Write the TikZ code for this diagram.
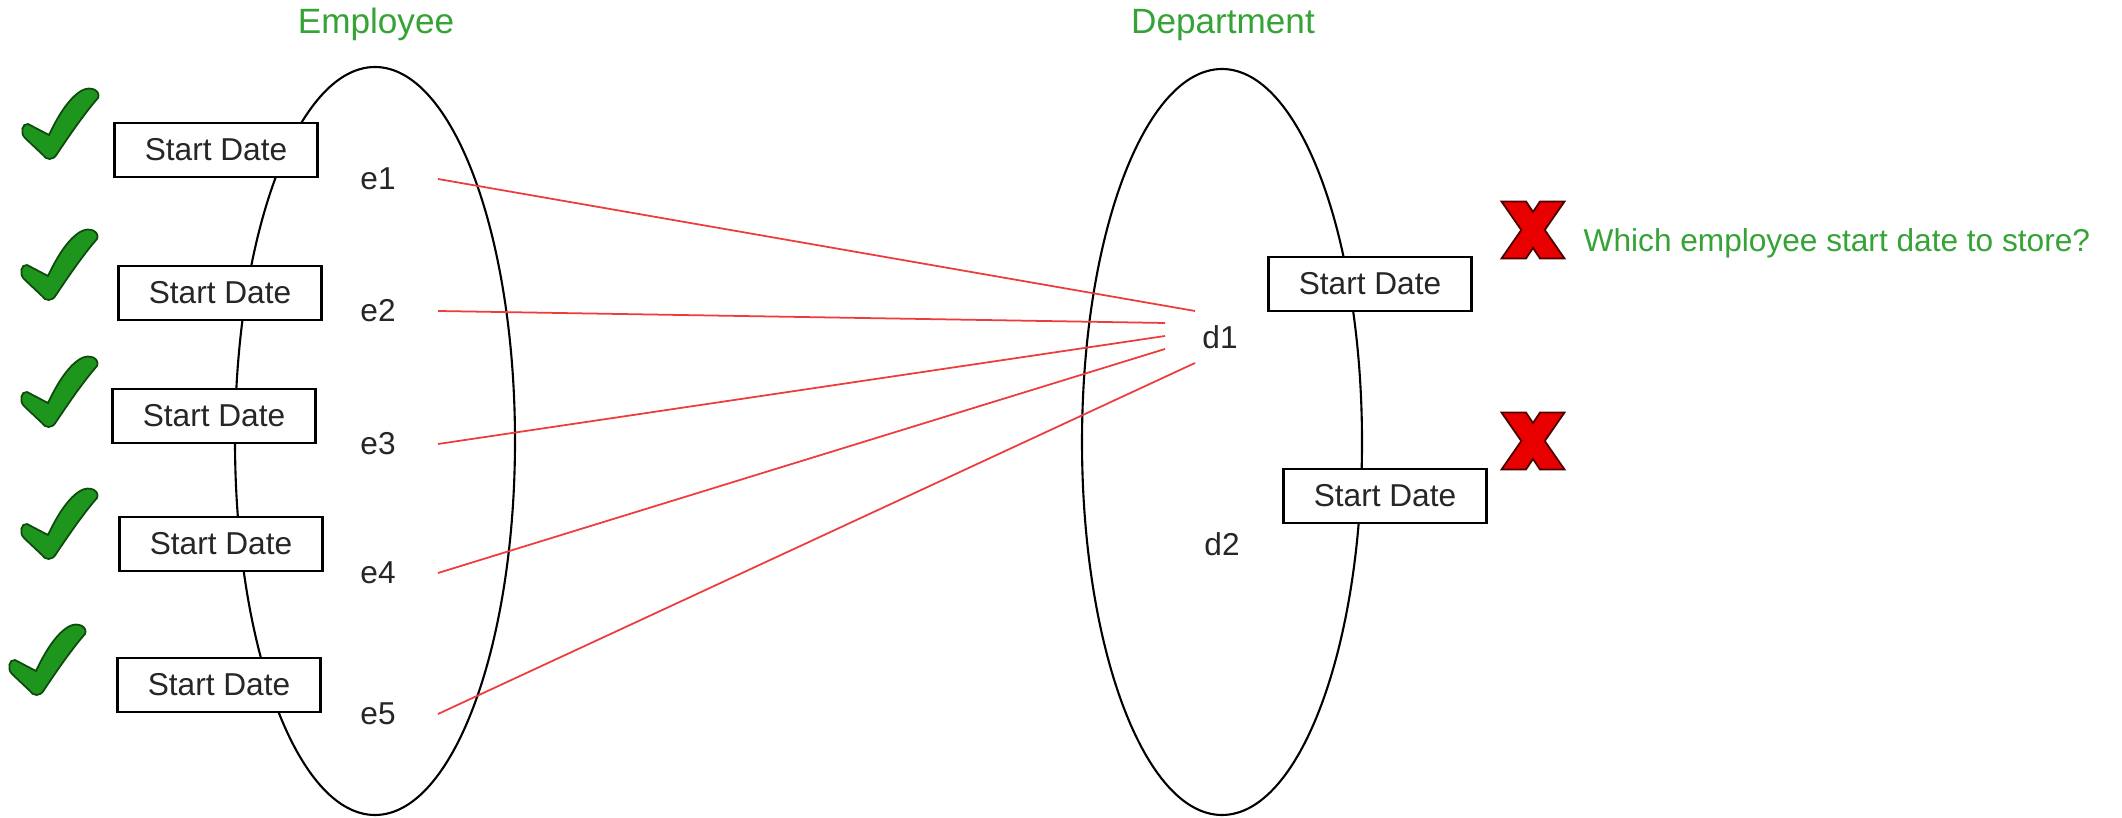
\documentclass[tikz,border=0pt]{standalone}
\usepackage{fontspec}
\setmainfont{Liberation Sans}
\usetikzlibrary{positioning}
\definecolor{titlegreen}{HTML}{36A336}
\definecolor{linkred}{HTML}{EE3B3B}
\definecolor{tickfill}{HTML}{1E961E}
\definecolor{tickedge}{HTML}{0E4A0E}
\definecolor{crossfill}{HTML}{E80000}
\definecolor{crossedge}{HTML}{4A0000}
\definecolor{inktext}{HTML}{262626}

\tikzset{
  datebox/.style={draw, line width=0.7pt, fill=white, minimum width=2.03cm,
    minimum height=0.54cm, inner sep=0pt, text=inktext, font=\fontsize{9}{10}\selectfont},
  member/.style={inner sep=0pt, text=inktext, font=\fontsize{9}{10}\selectfont},
  heading/.style={anchor=base, text=titlegreen, font=\fontsize{10}{12}\selectfont},
  link/.style={linkred, line width=0.5pt},
  okmark/.pic={
    \filldraw[fill=tickfill, draw=tickedge, line width=0.5pt]
      (-0.34,0.00) -- (-0.13,-0.11)
      .. controls (-0.05,0.06) and (0.06,0.25) .. (0.19,0.33)
      .. controls (0.29,0.39) and (0.39,0.33) .. (0.36,0.26)
      .. controls (0.22,0.10) and (0.07,-0.12) .. (-0.05,-0.30)
      .. controls (-0.09,-0.37) and (-0.16,-0.36) .. (-0.19,-0.31)
      -- (-0.37,-0.14)
      .. controls (-0.42,-0.09) and (-0.40,0.01) .. cycle;
  },
  nomark/.pic={
    \filldraw[fill=crossfill, draw=crossedge, line width=0.5pt]
      (-0.315,0.285) -- (-0.07,0.285) -- (0,0.18) -- (0.07,0.285)
      -- (0.315,0.285) -- (0.1175,0) -- (0.315,-0.285) -- (0.07,-0.285)
      -- (0,-0.18) -- (-0.07,-0.285) -- (-0.315,-0.285) -- (-0.1175,0) -- cycle;
  }
}

\begin{document}
\begin{tikzpicture}
    \fill[white] (0,0) rectangle (21.22,8.17);
    \useasboundingbox (0,0) rectangle (21.22,8.17);

    % the two entity sets
    \draw[line width=0.6pt] (3.75,3.76) ellipse (1.40cm and 3.74cm);
    \draw[line width=0.6pt] (12.22,3.75) ellipse (1.40cm and 3.73cm);
    \node[heading] (emptitle) at (3.76,7.83) {Employee};
    \node[heading] (deptitle) at (12.23,7.83) {Department};

    % employees
    \node[member] (e1) at (3.78,6.38) {e1};
    \node[member] (e2) at (3.78,5.06) {e2};
    \node[member] (e3) at (3.78,3.73) {e3};
    \node[member] (e4) at (3.78,2.44) {e4};
    \node[member] (e5) at (3.78,1.03) {e5};

    % departments
    \node[member] (d1) at (12.20,4.80) {d1};
    \node[member] (d2) at (12.22,2.73) {d2};

    % start dates on the employee side
    \node[datebox] (sd1) at (2.16,6.67) {Start Date};
    \node[datebox] (sd2) at (2.20,5.24) {Start Date};
    \node[datebox] (sd3) at (2.14,4.01) {Start Date};
    \node[datebox] (sd4) at (2.21,2.73) {Start Date};
    \node[datebox] (sd5) at (2.19,1.32) {Start Date};

    % start dates on the department side
    \node[datebox] (sdd1) at (13.70,5.33) {Start Date};
    \node[datebox] (sdd2) at (13.85,3.21) {Start Date};

    % many employees to one department
    \draw[link] ([xshift=0.6cm]e1.center) -- ([shift={(-0.25,0.26)}]d1.center);
    \draw[link] ([xshift=0.6cm]e2.center) -- ([shift={(-0.55,0.14)}]d1.center);
    \draw[link] ([xshift=0.6cm]e3.center) -- ([shift={(-0.55,0.01)}]d1.center);
    \draw[link] ([xshift=0.6cm]e4.center) -- ([shift={(-0.55,-0.12)}]d1.center);
    \draw[link] ([xshift=0.6cm]e5.center) -- ([shift={(-0.25,-0.26)}]d1.center);

    % marks
    \pic at (0.62,6.93) {okmark};
    \pic at (0.61,5.52) {okmark};
    \pic at (0.61,4.25) {okmark};
    \pic at (0.61,2.93) {okmark};
    \pic at (0.49,1.57) {okmark};
    \pic at (15.33,5.87) {nomark};
    \pic at (15.33,3.76) {nomark};

    \node[anchor=base west, inner sep=0pt, text=titlegreen, font=\fontsize{9}{10}\selectfont]
      (question) at (15.83,5.65) {Which employee start date to store?};
\end{tikzpicture}
\end{document}
